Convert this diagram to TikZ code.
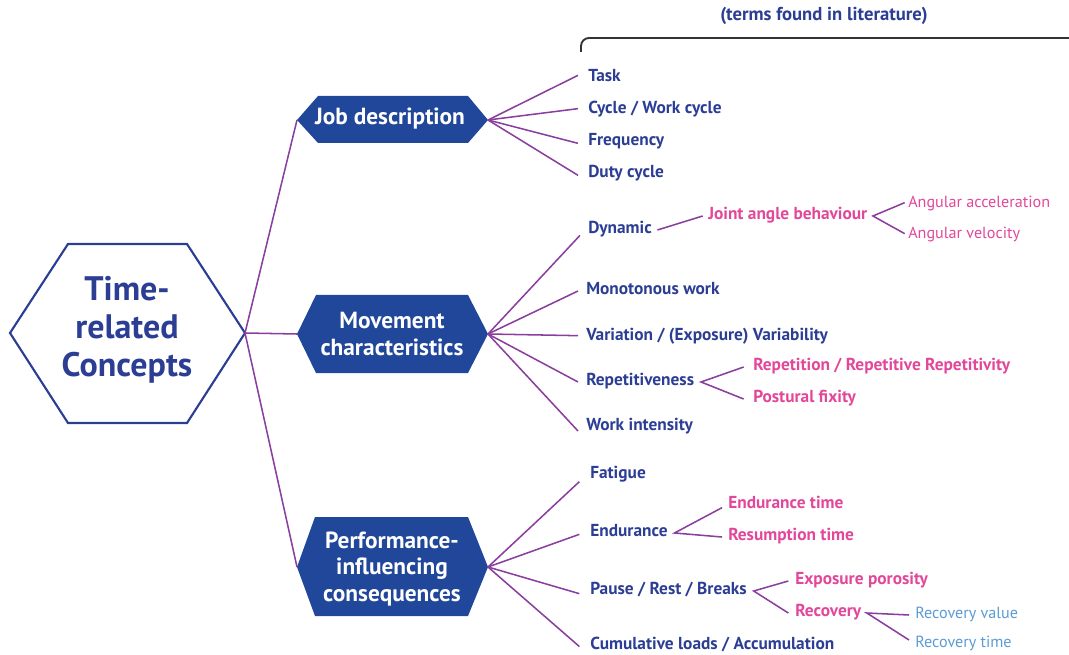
\documentclass[tikz,border=0pt]{standalone}
\usepackage{fontspec}
\setmainfont{PT Sans}
\definecolor{hexfill}{HTML}{21479B}
\definecolor{tblue}{HTML}{2C3E94}
\definecolor{vio}{HTML}{8A3E9E}
\definecolor{pinkc}{HTML}{E2479A}
\definecolor{lblue}{HTML}{5B9BD5}
\begin{document}
\begin{tikzpicture}[x=0.75pt,y=-0.75pt,
  lbl/.style={anchor=west, inner sep=0pt, yshift=-1.5pt, text height=0.72em, text depth=0.2em, font=\bfseries\fontsize{13}{15}\selectfont, text=tblue},
  sublbl/.style={lbl, text=pinkc},
  thinlbl/.style={lbl, font=\fontsize{12.1}{14}\selectfont, text=pinkc},
  bluelbl/.style={thinlbl, text=lblue},
  con/.style={draw=vio, line width=1.15pt},
  hexfilled/.style={fill=hexfill},
  hextext/.style={text=white, font=\bfseries\fontsize{17.5}{20}\selectfont, align=center, inner sep=0pt}]
\useasboundingbox (0,0) rectangle (1069,655);

% header
\node[font=\bfseries\fontsize{14}{16}\selectfont, text=tblue] (hdr) at (824,16) {(terms found in literature)};
\draw[line width=1.4pt, draw=black!80, rounded corners=6pt] (581,52) -- (581,38) -- (1075,38);

% main hexagon
\draw[draw=tblue, line width=1.6pt] (10,333) -- (68,244) -- (187,244) -- (245,333) -- (187,423) -- (68,423) -- cycle;
\coordinate (mainR) at (245,333);
\node[text=tblue, font=\bfseries\fontsize{25.5}{28.5}\selectfont, align=center] (main) at (127,330) {Time-\\related\\Concepts};

% level-1 hexagons
\fill[hexfilled] (297,120) -- (318,96) -- (468,96) -- (488,120) -- (468,143) -- (318,143) -- cycle;
\coordinate (jobL) at (297,120); \coordinate (jobR) at (488,120);
\node[hextext] (job) at (390,119) {Job description};

\fill[hexfilled] (297,334) -- (316,295) -- (468,295) -- (488,334) -- (468,373) -- (316,373) -- cycle;
\coordinate (movL) at (297,334); \coordinate (movR) at (488,334);
\node[hextext] (mov) at (392,334) {Movement\\characteristics};

\fill[hexfilled] (297,567) -- (315,517) -- (468,517) -- (488,567) -- (468,616) -- (315,616) -- cycle;
\coordinate (perL) at (297,567); \coordinate (perR) at (488,567);
\node[hextext] (per) at (392,569) {Performance-\\influencing\\consequences};

\draw[con] (mainR) -- (jobL);
\draw[con] (mainR) -- (movL);
\draw[con] (mainR) -- (perL);

% level-2 labels
\node[lbl] (task) at (588,76) {Task};
\node[lbl] (cycle) at (588,108) {Cycle / Work cycle};
\node[lbl] (freq) at (588,140) {Frequency};
\node[lbl] (duty) at (588,172) {Duty cycle};

\node[lbl] (dyn) at (588,228) {Dynamic};
\node[lbl] (mono) at (586,289) {Monotonous work};
\node[lbl] (vari) at (586,335) {Variation / (Exposure) Variability};
\node[lbl] (rep) at (586,380) {Repetitiveness};
\node[lbl] (inten) at (586,425) {Work intensity};

\node[lbl] (fat) at (590,473) {Fatigue};
\node[lbl] (endu) at (590,531) {Endurance};
\node[lbl] (pause) at (590,589) {Pause / Rest / Breaks};
\node[lbl] (cumu) at (590,644.5) {Cumulative loads / Accumulation};

\foreach \n/\dy in {task/2, cycle/1, freq/-1, duty/-1}
  \draw[con] (jobR) -- ([xshift=-7.5pt,yshift=\dy pt]\n.west);
\foreach \n/\dy in {dyn/-4, mono/0, vari/1, rep/0, inten/-3}
  \draw[con] (movR) -- ([xshift=-6pt,yshift=\dy pt]\n.west);
\foreach \n/\dy in {fat/-5, endu/-1, pause/-2, cumu/0}
  \draw[con] (perR) -- ([xshift=-8pt,yshift=\dy pt]\n.west);

% level-3 labels
\node[sublbl] (joint) at (708,214) {Joint angle behaviour};
\node[thinlbl] (angacc) at (908,202) {Angular acceleration};
\node[thinlbl] (angvel) at (908,233) {Angular velocity};
\draw[con] ([xshift=4pt]dyn.east) -- ([xshift=-4pt]joint.west);
\draw[con] ([xshift=-2.5pt,yshift=1pt]angacc.west) -- ([xshift=4pt]joint.east) -- ([xshift=-2.5pt,yshift=1pt]angvel.west);

\node[sublbl] (repet) at (753,365) {Repetition / Repetitive Repetitivity};
\node[sublbl] (post) at (753,397) {Postural fixity};
\draw[con] ([xshift=-7pt]repet.west) -- ([xshift=5pt]rep.east) -- ([xshift=-7pt]post.west);

\node[sublbl] (endt) at (728,503) {Endurance time};
\node[sublbl] (rest) at (728,535) {Resumption time};
\draw[con] ([xshift=-4.5pt,yshift=-2pt]endt.west) -- ([xshift=5pt]endu.east) -- ([xshift=-4.5pt]rest.west);

\node[sublbl] (expo) at (795,579) {Exposure porosity};
\node[sublbl] (reco) at (795,611) {Recovery};
\draw[con] ([xshift=-5pt]expo.west) -- ([xshift=5pt]pause.east) -- ([xshift=-5pt]reco.west);

\node[bluelbl] (recv) at (915,613) {Recovery value};
\node[bluelbl] (rect) at (915,642) {Recovery time};
\draw[con] ([xshift=-4.5pt]recv.west) -- ([xshift=4pt]reco.east) -- ([xshift=-4.5pt,yshift=3pt]rect.west);
\end{tikzpicture}
\end{document}
